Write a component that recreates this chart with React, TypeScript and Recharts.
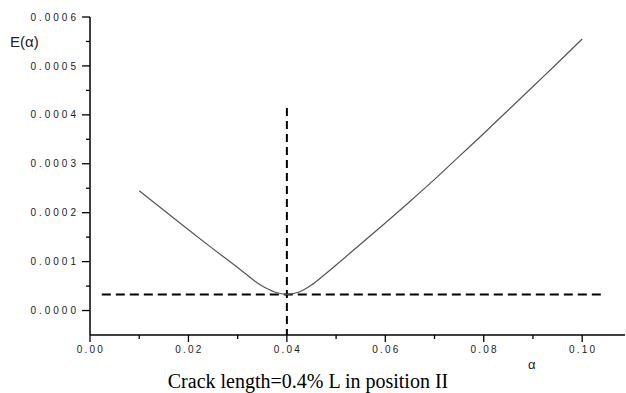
import { LineChart, Line, XAxis, YAxis, ReferenceLine } from 'recharts'

// values
const alphaValues = [
  0.01, 0.015, 0.02, 0.025, 0.03, 0.035, 0.0375, 0.04, 0.0425, 0.045, 0.0475, 0.05,
  0.055, 0.06, 0.065, 0.07, 0.075, 0.08, 0.085, 0.09, 0.095, 0.1,
]
const energyValues = [
  0.000245, 0.000205, 0.000165, 0.000126, 0.000088, 0.00005, 0.000038, 0.000033,
  0.000038, 0.000052, 0.000072, 0.000093, 0.000136, 0.000179, 0.000223, 0.000268,
  0.000315, 0.000362, 0.00041, 0.000458, 0.000506, 0.000555,
]

const xMajor = [0, 0.02, 0.04, 0.06, 0.08, 0.1]
const xMinor = [0.01, 0.03, 0.05, 0.07, 0.09]
const yMajor = [0, 0.0001, 0.0002, 0.0003, 0.0004, 0.0005, 0.0006]
const yMinor = [0.00005, 0.00015, 0.00025, 0.00035, 0.00045, 0.00055]

const minAlpha = 0.04
const minEnergy = 0.0000328
const vLineTop = 0.000414
const hLineFrom = 0.0024
const hLineTo = 0.1047

const X_DOMAIN: [number, number] = [0, 0.1087]
const Y_DOMAIN: [number, number] = [-0.00005, 0.0006]

const tickFont = 'Arial, "Liberation Sans", sans-serif'

const isIn = (list: number[], v: number) => list.some((m) => Math.abs(m - v) < 1e-9)

function XTick({ x, y, payload }: any) {
  const v = payload.value
  const major = isIn(xMajor, v)
  return (
    <g>
      <line x1={x} x2={x} y1={y} y2={y + (major ? 7 : 4)} stroke="#000" strokeWidth={1.3} />
      {major && (
        <text
          x={x + 1}
          y={y + 18}
          textAnchor="middle"
          fontSize={10}
          fontFamily={tickFont}
          letterSpacing={2.2}
          fill="#222"
        >
          {v.toFixed(2)}
        </text>
      )}
    </g>
  )
}

function YTick({ x, y, payload }: any) {
  const v = payload.value
  const major = isIn(yMajor, v)
  return (
    <g>
      <line x1={x - (major ? 8 : 4)} x2={x} y1={y} y2={y} stroke="#000" strokeWidth={1.3} />
      {major && (
        <text
          x={x - 11}
          y={y}
          dy="0.36em"
          textAnchor="end"
          fontSize={10}
          fontFamily={tickFont}
          letterSpacing={3}
          fill="#222"
        >
          {v.toFixed(4)}
        </text>
      )}
    </g>
  )
}

export default function App() {
  const data = alphaValues.map((a, i) => ({ alpha: a, E: energyValues[i] }))

  return (
    <div style={{ position: 'relative', width: 626, height: 393, background: '#fff' }}>
      <style>{'body{margin:0}'}</style>
      <LineChart width={626} height={393} data={data} margin={{ top: 17, right: 1, bottom: 0, left: 0 }}>
        <XAxis
          dataKey="alpha"
          type="number"
          domain={X_DOMAIN}
          allowDataOverflow
          ticks={[...xMajor, ...xMinor].sort((a, b) => a - b)}
          interval={0}
          height={58}
          tickSize={0}
          tickMargin={0}
          tickLine={false}
          tick={<XTick />}
          axisLine={{ stroke: '#000', strokeWidth: 1.5 }}
        />
        <YAxis
          type="number"
          domain={Y_DOMAIN}
          allowDataOverflow
          ticks={[...yMajor, ...yMinor].sort((a, b) => a - b)}
          interval={0}
          width={90}
          tickSize={0}
          tickMargin={0}
          tickLine={false}
          tick={<YTick />}
          axisLine={{ stroke: '#000', strokeWidth: 1.5 }}
        />
        <ReferenceLine
          segment={[{ x: minAlpha, y: vLineTop }, { x: minAlpha, y: Y_DOMAIN[0] }]}
          stroke="#000"
          strokeWidth={2}
          strokeDasharray="8 5"
        />
        <ReferenceLine
          segment={[{ x: hLineFrom, y: minEnergy }, { x: hLineTo, y: minEnergy }]}
          stroke="#000"
          strokeWidth={2}
          strokeDasharray="9 5"
        />
        <Line
          type="monotone"
          dataKey="E"
          stroke="#555"
          strokeWidth={1.2}
          dot={false}
          isAnimationActive={false}
        />
      </LineChart>
      <div
        style={{
          position: 'absolute',
          left: 10,
          top: 34,
          fontFamily: tickFont,
          fontSize: 15,
          lineHeight: '16px',
          color: '#222',
        }}
      >
        E(α)
      </div>
      <div
        style={{
          position: 'absolute',
          left: 528,
          top: 358,
          fontFamily: tickFont,
          fontSize: 13,
          lineHeight: '14px',
          color: '#222',
        }}
      >
        α
      </div>
      <div
        style={{
          position: 'absolute',
          left: 0,
          width: 616,
          top: 370,
          textAlign: 'center',
          fontFamily: '"Times New Roman", "Liberation Serif", serif',
          fontSize: 20,
          lineHeight: '22px',
          color: '#000',
        }}
      >
        Crack length=0.4% L in position II
      </div>
    </div>
  )
}
